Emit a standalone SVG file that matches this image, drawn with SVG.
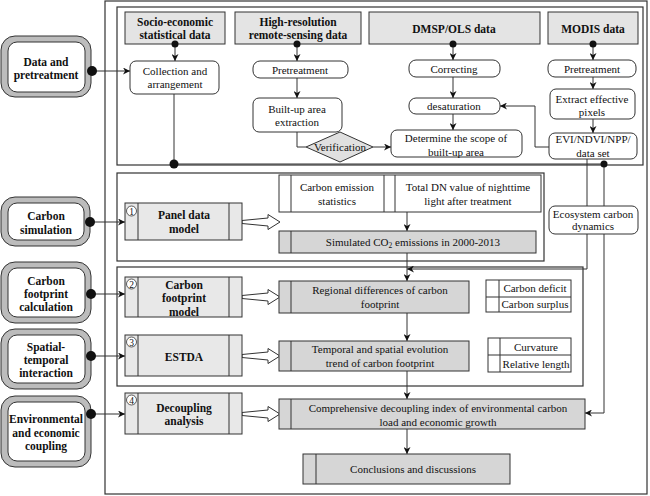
<svg xmlns="http://www.w3.org/2000/svg" width="650" height="496" viewBox="0 0 650 496">
<defs>
<style>
text{font-family:"Liberation Serif","Times New Roman",serif;font-size:11px;fill:#111;text-anchor:middle}
.b{font-weight:bold;font-size:11.5px}
.frame{fill:none;stroke:#333;stroke-width:1.2}
.hdr{fill:#e4e4e4;stroke:#333;stroke-width:1}
.rr{fill:#fff;stroke:#333;stroke-width:1}
.pnl{fill:#e8e8e8;stroke:#333;stroke-width:1}
.gry{fill:#d6d6d6;stroke:#333;stroke-width:1}
.wt{fill:#fff;stroke:#333;stroke-width:1}
.outer{fill:#bcbcbc;stroke:#333;stroke-width:1}
.inner{fill:#fff;stroke:#333;stroke-width:1}
.ln{fill:none;stroke:#333;stroke-width:1}
.arr{fill:none;stroke:#333;stroke-width:1;marker-end:url(#ah)}
.dot{fill:#111}
.hol{fill:#fff;stroke:#333;stroke-width:1}
.num{fill:#fff;stroke:#333;stroke-width:0.8}
.nt{font-size:9.5px}
</style>
<marker id="ah" viewBox="0 0 10 10" refX="10" refY="5" markerWidth="7" markerHeight="7" orient="auto" markerUnits="userSpaceOnUse">
<path d="M0,0 L10,5 L0,10 L3,5 z" fill="#111"/>
</marker>
</defs>
<rect x="0" y="0" width="650" height="496" fill="#fff"/>

<g id="frames">
<rect class="frame" x="105" y="1" width="542" height="493"/>
<rect class="frame" x="117" y="7" width="526" height="158"/>
<rect class="frame" x="117" y="173" width="427" height="88"/>
<rect class="frame" x="117" y="267" width="466" height="119"/>
</g>

<g id="node-data-pretreatment">
<rect class="outer" x="1" y="36" width="90" height="61" rx="14"/>
<rect class="inner" x="8" y="42" width="77" height="50" rx="9"/>
<text class="b" x="46" y="66">Data and</text>
<text class="b" x="46" y="79">pretreatment</text>
</g>
<g id="node-carbon-simulation">
<rect class="outer" x="1" y="197" width="89" height="49" rx="14"/>
<rect class="inner" x="8" y="203" width="76" height="37" rx="9"/>
<text class="b" x="46" y="220">Carbon</text>
<text class="b" x="46" y="234">simulation</text>
</g>
<g id="node-carbon-footprint-calc">
<rect class="outer" x="1" y="262" width="90" height="61" rx="14"/>
<rect class="inner" x="8" y="268" width="77" height="49" rx="9"/>
<text class="b" x="46" y="285">Carbon</text>
<text class="b" x="46" y="298">footprint</text>
<text class="b" x="46" y="311">calculation</text>
</g>
<g id="node-spatial-temporal">
<rect class="outer" x="1" y="329" width="90" height="60" rx="14"/>
<rect class="inner" x="8" y="335" width="77" height="48" rx="9"/>
<text class="b" x="46" y="351">Spatial-</text>
<text class="b" x="46" y="364">temporal</text>
<text class="b" x="46" y="377">interaction</text>
</g>
<g id="node-env-econ">
<rect class="outer" x="1" y="396" width="90" height="71" rx="14"/>
<rect class="inner" x="8" y="402" width="77" height="59" rx="9"/>
<text class="b" x="46" y="423">Environmental</text>
<text class="b" x="46" y="437">and economic</text>
<text class="b" x="46" y="450">coupling</text>
</g>

<g id="hdr-socio">
<rect class="hdr" x="125" y="12" width="100" height="32"/>
<text class="b" x="175" y="26">Socio-economic</text>
<text class="b" x="175" y="39">statistical data</text>
</g>
<g id="hdr-highres">
<rect class="hdr" x="235" y="12" width="126" height="32"/>
<text class="b" x="298" y="26">High-resolution</text>
<text class="b" x="298" y="39">remote-sensing data</text>
</g>
<g id="hdr-dmsp">
<rect class="hdr" x="369" y="12" width="171" height="32"/>
<text class="b" x="454" y="33">DMSP/OLS data</text>
</g>
<g id="hdr-modis">
<rect class="hdr" x="548" y="12" width="90" height="32"/>
<text class="b" x="593" y="33">MODIS data</text>
</g>

<g id="collection">
<rect class="rr" x="130" y="61" width="89" height="33" rx="6"/>
<text x="175" y="75">Collection and</text>
<text x="175" y="88">arrangement</text>
</g>
<g id="pretreat-hr">
<rect class="rr" x="253" y="61" width="95" height="17" rx="7"/>
<text x="300" y="74">Pretreatment</text>
</g>
<g id="builtup">
<rect class="rr" x="253" y="98" width="89" height="34" rx="6"/>
<text x="297" y="113">Built-up area</text>
<text x="297" y="126">extraction</text>
</g>
<g id="verification">
<polygon points="306,147 340,132 373,147 340,162" fill="#e0e0e0" stroke="#333" stroke-width="1"/>
<text x="340" y="151">Verification</text>
</g>
<g id="correcting">
<rect class="rr" x="409" y="60" width="91" height="17" rx="7"/>
<text x="454" y="73">Correcting</text>
</g>
<g id="desaturation">
<rect class="rr" x="409" y="98" width="91" height="16" rx="7"/>
<text x="454" y="110">desaturation</text>
</g>
<g id="determine">
<rect class="rr" x="391" y="130" width="131" height="27" rx="6"/>
<text x="456" y="142">Determine the scope of</text>
<text x="456" y="156">built-up area</text>
</g>
<g id="pretreat-modis">
<rect class="rr" x="548" y="60" width="88" height="17" rx="7"/>
<text x="592" y="73">Pretreatment</text>
</g>
<g id="extract">
<rect class="rr" x="550" y="89" width="85" height="30" rx="6"/>
<text x="592" y="103">Extract effective</text>
<text x="592" y="116">pixels</text>
</g>
<g id="evi">
<rect class="rr" x="549" y="133" width="88" height="26" rx="6"/>
<text x="593" y="143">EVI/NDVI/NPP/</text>
<text x="593" y="157">data set</text>
</g>

<g id="connectors">
<line class="arr" x1="92" y1="71" x2="130" y2="71"/>
<line class="arr" x1="90" y1="222" x2="125" y2="222"/>
<line class="arr" x1="91" y1="294" x2="125" y2="294"/>
<line class="arr" x1="91" y1="356" x2="125" y2="356"/>
<line class="arr" x1="91" y1="414" x2="125" y2="414"/>
<circle class="dot" cx="92" cy="71" r="5"/>
<circle class="dot" cx="90" cy="222" r="5"/>
<circle class="dot" cx="91" cy="294" r="5"/>
<circle class="dot" cx="91" cy="356" r="5"/>
<circle class="dot" cx="91" cy="414" r="5"/>

<line class="arr" x1="175" y1="44" x2="175" y2="61"/>
<line class="arr" x1="297" y1="44" x2="297" y2="61"/>
<line class="arr" x1="453" y1="44" x2="453" y2="60"/>
<line class="arr" x1="593" y1="44" x2="593" y2="60"/>
<circle class="dot" cx="175" cy="44" r="3.5"/>
<circle class="dot" cx="297" cy="44" r="3.5"/>
<circle class="dot" cx="453" cy="44" r="3.5"/>
<circle class="dot" cx="593" cy="44" r="3.5"/>

<line class="arr" x1="297" y1="78" x2="297" y2="98"/>
<polyline class="ln" points="297,132 297,147 306,147"/>
<line class="arr" x1="373" y1="147" x2="391" y2="147"/>
<line class="arr" x1="453" y1="77" x2="453" y2="98"/>
<line class="arr" x1="453" y1="114" x2="453" y2="130"/>
<line class="arr" x1="593" y1="77" x2="593" y2="89"/>
<line class="arr" x1="593" y1="119" x2="593" y2="133"/>
<polyline class="arr" points="549,147 535,147 535,106 500,106"/>

<line class="ln" x1="174" y1="94" x2="174" y2="164"/>
<polyline class="ln" points="174,164 604,164"/>
<circle class="dot" cx="174" cy="164" r="4.5"/>
<polyline class="arr" points="604,164 604,413 585,413"/>
<circle class="dot" cx="604" cy="164" r="3.5"/>
<polyline class="ln" points="587,159 587,206"/>
<polyline class="arr" points="587,234 587,269 407,269"/>

<line class="arr" x1="407" y1="212" x2="407" y2="231"/>
<line class="arr" x1="407" y1="253" x2="407" y2="281"/>
<line class="arr" x1="407" y1="313" x2="407" y2="341"/>
<line class="arr" x1="407" y1="371" x2="407" y2="399"/>
<line class="arr" x1="407" y1="429" x2="407" y2="454"/>

<polygon class="hol" points="242,220.5 268,218 268,214.5 280,222 268,229.5 268,226 242,223.5"/>
<polygon class="hol" points="242,295.5 268,293 268,289.5 280,297 268,304.5 268,301 242,298.5"/>
<polygon class="hol" points="242,354.5 268,352 268,348.5 280,356 268,363.5 268,360 242,357.5"/>
<polygon class="hol" points="242,412.5 268,410 268,406.5 280,414 268,421.5 268,418 242,415.5"/>
</g>

<g id="ecosystem">
<rect class="rr" x="549" y="206" width="89" height="28" rx="6"/>
<text x="593" y="218">Ecosystem carbon</text>
<text x="593" y="230">dynamics</text>
</g>

<g id="panel-data-model">
<rect class="pnl" x="125" y="203" width="117" height="37"/>
<line class="ln" x1="138" y1="203" x2="138" y2="240"/>
<line class="ln" x1="229" y1="203" x2="229" y2="240"/>
<circle class="num" cx="131.5" cy="211" r="5"/>
<text class="nt" x="131.5" y="214.5">1</text>
<text class="b" x="184" y="219">Panel data</text>
<text class="b" x="184" y="233">model</text>
</g>
<g id="carbon-footprint-model">
<rect class="pnl" x="125" y="277" width="117" height="40"/>
<line class="ln" x1="138" y1="277" x2="138" y2="317"/>
<line class="ln" x1="229" y1="277" x2="229" y2="317"/>
<circle class="num" cx="131.5" cy="284" r="5"/>
<text class="nt" x="131.5" y="287.5">2</text>
<text class="b" x="184" y="289">Carbon</text>
<text class="b" x="184" y="302">footprint</text>
<text class="b" x="184" y="316">model</text>
</g>
<g id="estda">
<rect class="pnl" x="125" y="335" width="117" height="41"/>
<line class="ln" x1="138" y1="335" x2="138" y2="376"/>
<line class="ln" x1="229" y1="335" x2="229" y2="376"/>
<circle class="num" cx="131.5" cy="342" r="5"/>
<text class="nt" x="131.5" y="345.5">3</text>
<text class="b" x="184" y="361">ESTDA</text>
</g>
<g id="decoupling-analysis">
<rect class="pnl" x="125" y="393" width="117" height="41"/>
<line class="ln" x1="138" y1="393" x2="138" y2="434"/>
<line class="ln" x1="229" y1="393" x2="229" y2="434"/>
<circle class="num" cx="131.5" cy="400" r="5"/>
<text class="nt" x="131.5" y="403.5">4</text>
<text class="b" x="184" y="412">Decoupling</text>
<text class="b" x="184" y="425">analysis</text>
</g>

<g id="inputs-table">
<rect class="wt" x="279" y="175" width="262" height="37"/>
<line class="ln" x1="291" y1="175" x2="291" y2="212"/>
<line class="ln" x1="384" y1="175" x2="384" y2="212"/>
<line class="ln" x1="395" y1="175" x2="395" y2="212"/>
<text x="337" y="191">Carbon emission</text>
<text x="337" y="205">statistics</text>
<text x="468" y="191">Total DN value of nighttime</text>
<text x="468" y="205">light after treatment</text>
</g>
<g id="simulated">
<rect class="gry" x="279" y="231" width="257" height="22"/>
<line class="ln" x1="291" y1="231" x2="291" y2="253"/>
<text x="413" y="246">Simulated CO<tspan font-size="7.5" dy="2">2</tspan><tspan dy="-2"> emissions in 2000-2013</tspan></text>
</g>
<g id="regional">
<rect class="gry" x="279" y="281" width="190" height="32"/>
<line class="ln" x1="291" y1="281" x2="291" y2="313"/>
<text x="380" y="294">Regional differences of carbon</text>
<text x="380" y="308">footprint</text>
</g>
<g id="deficit-table">
<rect class="wt" x="486" y="280" width="85" height="32"/>
<line class="ln" x1="499" y1="280" x2="499" y2="312"/>
<line class="ln" x1="486" y1="297" x2="571" y2="297"/>
<text x="535" y="292">Carbon deficit</text>
<text x="535" y="308">Carbon surplus</text>
</g>
<g id="temporal">
<rect class="gry" x="279" y="341" width="190" height="30"/>
<line class="ln" x1="291" y1="341" x2="291" y2="371"/>
<text x="380" y="353">Temporal and spatial evolution</text>
<text x="380" y="367">trend of carbon footprint</text>
</g>
<g id="curvature-table">
<rect class="wt" x="488" y="338" width="83" height="34"/>
<line class="ln" x1="500" y1="338" x2="500" y2="372"/>
<line class="ln" x1="488" y1="355" x2="571" y2="355"/>
<text x="536" y="351">Curvature</text>
<text x="536" y="368">Relative length</text>
</g>
<g id="comprehensive">
<rect class="gry" x="279" y="399" width="306" height="30"/>
<line class="ln" x1="291" y1="399" x2="291" y2="429"/>
<text x="438" y="412">Comprehensive decoupling index of environmental carbon</text>
<text x="438" y="426">load and economic growth</text>
</g>
<g id="conclusions">
<rect class="gry" x="303" y="454" width="207" height="30"/>
<line class="ln" x1="316" y1="454" x2="316" y2="484"/>
<text x="413" y="473">Conclusions and discussions</text>
</g>
</svg>
